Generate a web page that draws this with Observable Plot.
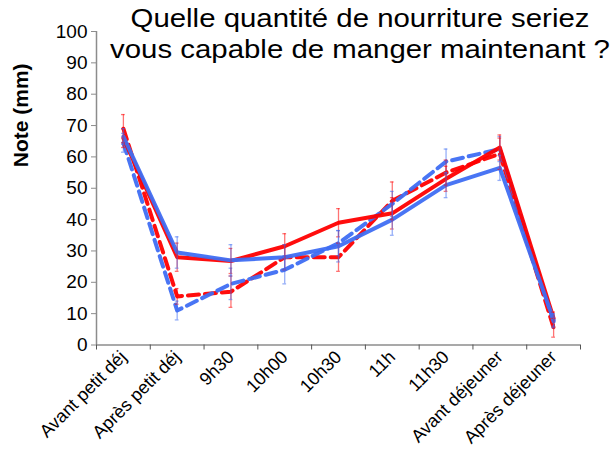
<!DOCTYPE html>
<html>
<head>
<meta charset="utf-8">
<script src="https://cdn.jsdelivr.net/npm/d3@7"></script>
<script src="https://cdn.jsdelivr.net/npm/@observablehq/plot@0.6"></script>
<style>
  html, body { margin: 0; padding: 0; background: #fff; }
  #wrap { position: relative; width: 613px; height: 463px; font-family: "Liberation Sans", Arial, sans-serif; }
  #title { position: absolute; left: 110px; top: 3px; width: 500px; text-align: center; font-size: 26px; line-height: 31px; color: #000; transform: scaleX(1.13); transform-origin: center top; white-space: nowrap; }
</style>
</head>
<body>
<div id="wrap">
  <div id="chart"></div>
  <div id="title">Quelle quantité de nourriture seriez<br>vous capable de manger maintenant ?</div>
</div>
<script>
const categories = ["Avant petit déj", "Après petit déj", "9h30", "10h00", "10h30", "11h", "11h30", "Avant déjeuner", "Après déjeuner"];
const yTicks = [0, 10, 20, 30, 40, 50, 60, 70, 80, 90, 100];
const yLabel = "Note (mm)";

const redSolid     = [66, 28, 26.8, 31.5, 39, 42, 53, 63, 8.5];
const redSolidErr  = [3, 4.5, 4, 4, 4.5, 5, 4, 4, 2];
const redDashed    = [69, 15.5, 17, 28, 28, 46, 55, 61, 5.5];
const redDashedErr = [4.5, 2.5, 5, 4, 4.5, 6, 4, 5, 3];
const blueSolid    = [66.5, 29.5, 27, 28, 31.5, 40, 51, 56.5, 8];
const blueSolidErr = [2.5, 5, 5, 4, 5, 5, 4, 4, 2];
const blueDashed   = [64.5, 11, 19.5, 24, 32.5, 45, 58.5, 62.5, 7.5];
const blueDashedErr= [3, 3, 5, 4.5, 4, 4, 4, 4, 2];

const rows = (vals, errs) => vals.map((v, i) => ({i, v, lo: v - errs[i], hi: v + errs[i]}));

const RED = "#ff0000", BLUE = "#3f6ef3";
const series = [
  {data: rows(redDashed, redDashedErr), color: RED, dash: "11,6"},
  {data: rows(blueDashed, blueDashedErr), color: BLUE, dash: "11,6"},
  {data: rows(redSolid, redSolidErr), color: RED, dash: null},
  {data: rows(blueSolid, blueSolidErr), color: BLUE, dash: null}
];

const centers = categories.map((_, i) => i);
const edges = d3.range(categories.length + 1).map(i => i - 0.5);
const cap = 0.035;

const marks = [
  Plot.ruleY([0], {stroke: "#8c8c8c", strokeWidth: 1.5}),
  Plot.ruleX([edges[0]], {stroke: "#8c8c8c", strokeWidth: 1.5}),
  Plot.axisY({ticks: yTicks, tickSize: 5, tickPadding: 4, stroke: "#8c8c8c", fontSize: 19, label: null, tickFormat: d => String(d)}),
  Plot.axisX({ticks: edges, tickSize: 5, stroke: "#555", tickFormat: () => "", label: null}),
  Plot.axisX({ticks: centers, tickSize: 0, tickRotate: -45, tickPadding: 9, fontSize: 18, tickFormat: i => categories[i], label: null}),
  Plot.text([yLabel], {frameAnchor: "left", dx: -75, dy: -21, rotate: -90, fontSize: 21, fontWeight: "bold", fill: "#000"})
];
for (const s of series) {
  marks.push(Plot.line(s.data, {x: "i", y: "v", stroke: s.color, strokeWidth: 4, strokeOpacity: 0.95, strokeDasharray: s.dash, strokeLinejoin: "round"}));
}
for (const s of series) {
  marks.push(Plot.ruleX(s.data, {x: "i", y1: "lo", y2: "hi", stroke: s.color, strokeOpacity: 0.55, strokeWidth: 1.3}));
  marks.push(Plot.ruleY(s.data, {y: "hi", x1: d => d.i - cap, x2: d => d.i + cap, stroke: s.color, strokeOpacity: 0.55, strokeWidth: 1.3}));
  marks.push(Plot.ruleY(s.data, {y: "lo", x1: d => d.i - cap, x2: d => d.i + cap, stroke: s.color, strokeOpacity: 0.55, strokeWidth: 1.3}));
}

const chart = Plot.plot({
  width: 613,
  height: 463,
  marginLeft: 96,
  marginRight: 33,
  marginTop: 31,
  marginBottom: 118.5,
  style: {fontFamily: "Liberation Sans, Arial, sans-serif", color: "#000", background: "#fff"},
  x: {domain: [edges[0], edges[edges.length - 1]], axis: null},
  y: {domain: [yTicks[0], yTicks[yTicks.length - 1]], axis: null},
  marks
});
document.getElementById("chart").appendChild(chart);
</script>
</body>
</html>
